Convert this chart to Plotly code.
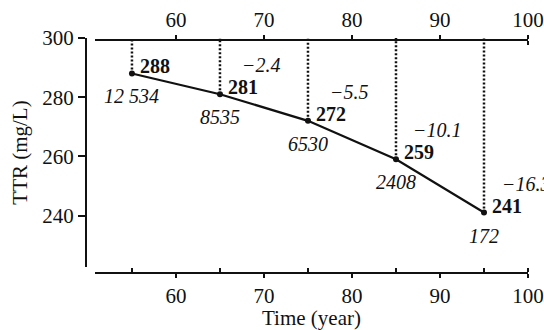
import plotly.graph_objects as go

# ---- data ----
years = [55, 65, 75, 85, 95]
ttr = [288, 281, 272, 259, 241]
counts = ["12 534", "8535", "6530", "2408", "172"]
changes = [None, "−2.4", "−5.5", "−10.1", "−16.3"]
x_ticks = [60, 70, 80, 90, 100]
y_ticks = [240, 260, 280, 300]
x_range = [50.8, 100]
y_range = [222.6, 300]

# ---- geometry (pixels) ----
W, H = 544, 330
FONT = "Liberation Serif, Times New Roman, serif"
INK = "#111111"
FS = 21
FS_LABEL = 20
x_left_px, x_right_px = 95, 528
y_top_px, y_bot_px = 38, 267
yaxis_px = 86
bottom_axis_px = 273
top_axis_px = 40


def px_x(p):
    return p / W


def px_y(p):
    return 1 - p / H


fig = go.Figure()

# dotted guide lines from each point up to the top axis
dot_x, dot_y = [], []
for xv, yv in zip(years, ttr):
    dot_x += [xv, xv, None]
    dot_y += [yv, max(y_ticks), None]
fig.add_trace(go.Scatter(x=dot_x, y=dot_y, mode="lines",
                         line=dict(color=INK, width=2.5, dash="2px,2px"),
                         hoverinfo="skip", showlegend=False))

# main line
fig.add_trace(go.Scatter(x=years, y=ttr, mode="lines+markers",
                         line=dict(color=INK, width=2.2),
                         marker=dict(color=INK, size=6),
                         showlegend=False))

# invisible trace to activate top axis
fig.add_trace(go.Scatter(x=years, y=ttr, xaxis="x2", mode="markers",
                         marker=dict(opacity=0), hoverinfo="skip",
                         showlegend=False))

tickfont = dict(family=FONT, size=FS, color=INK)
titlefont = dict(family=FONT, size=FS, color=INK)
labelfont = dict(family=FONT, size=FS_LABEL, color=INK)

axis_common = dict(showline=True, linewidth=2, linecolor=INK, showgrid=False,
                   zeroline=False, tickcolor=INK, tickwidth=2, automargin=False)

fig.update_layout(
    template="none",
    width=W, height=H,
    margin=dict(l=0, r=0, t=0, b=0, pad=0),
    paper_bgcolor="white", plot_bgcolor="white",
    showlegend=False,
    xaxis=dict(domain=[px_x(x_left_px), px_x(x_right_px)], range=x_range,
               anchor="free", position=px_y(bottom_axis_px),
               tickmode="array", tickvals=x_ticks, ticks="outside", ticklen=4,
               tickfont=tickfont,
               minor=dict(tickmode="array", tickvals=years + [x_ticks[-1]],
                          ticks="inside", ticklen=4, tickwidth=2, tickcolor=INK),
               title=dict(text="Time (year)", font=titlefont, standoff=2),
               **axis_common),
    xaxis2=dict(domain=[px_x(x_left_px), px_x(x_right_px)], range=x_range,
                overlaying="x", side="top", anchor="free",
                position=px_y(top_axis_px),
                tickmode="array", tickvals=x_ticks, ticks="outside", ticklen=4,
                tickfont=tickfont,
                minor=dict(tickmode="array", tickvals=[x_ticks[-1]],
                           ticks="inside", ticklen=4, tickwidth=2, tickcolor=INK),
                **axis_common),
    yaxis=dict(domain=[px_y(y_bot_px), px_y(y_top_px)], range=y_range,
               anchor="free", position=px_x(yaxis_px),
               tickmode="array", tickvals=y_ticks, ticks="outside", ticklen=7,
               tickfont=tickfont,
               title=dict(text="TTR (mg/L)", font=titlefont, standoff=8),
               **axis_common),
)

annotations = []
for xv, yv, c, d in zip(years, ttr, counts, changes):
    annotations.append(dict(x=xv, y=yv, xref="x", yref="y", text=f"<b>{yv}</b>",
                            showarrow=False, xanchor="left", yanchor="middle",
                            xshift=7, yshift=7, borderpad=0, font=labelfont))
    annotations.append(dict(x=xv, y=yv, xref="x", yref="y", text=f"<i>{c}</i>",
                            showarrow=False, xanchor="center", yanchor="middle",
                            yshift=-23, borderpad=0, font=labelfont))
    if d is not None:
        annotations.append(dict(x=xv, y=yv, xref="x", yref="y", text=f"<i>{d}</i>",
                                showarrow=False, xanchor="center", yanchor="middle",
                                xshift=42, yshift=29, borderpad=0, font=labelfont))
fig.update_layout(annotations=annotations)

fig.write_html("out.html",
               config={"displayModeBar": False},
               post_script="document.body.style.margin='0';"
                           "document.body.style.padding='0';")
